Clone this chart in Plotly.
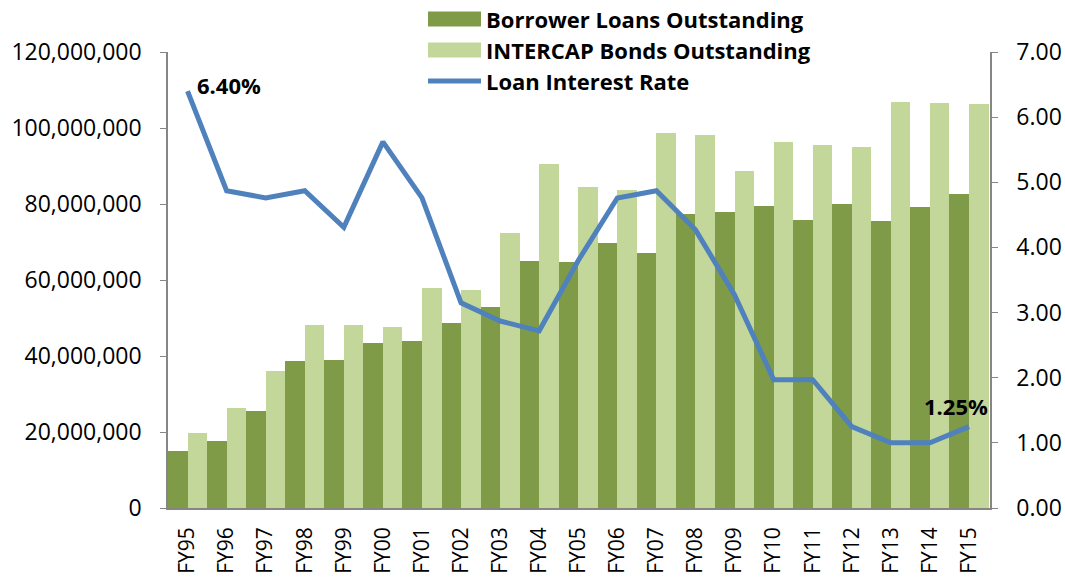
import plotly.graph_objects as go

years = ["FY95","FY96","FY97","FY98","FY99","FY00","FY01","FY02","FY03","FY04","FY05",
         "FY06","FY07","FY08","FY09","FY10","FY11","FY12","FY13","FY14","FY15"]
borrower_loans = [15.0e6,17.6e6,25.5e6,38.7e6,38.9e6,43.4e6,43.9e6,48.7e6,53.0e6,65.0e6,64.7e6,
                  69.7e6,67.0e6,77.5e6,77.8e6,79.5e6,75.8e6,80.0e6,75.5e6,79.2e6,82.6e6]
intercap_bonds = [19.7e6,26.2e6,36.1e6,48.2e6,48.2e6,47.6e6,57.9e6,57.4e6,72.4e6,90.6e6,84.5e6,
                  83.7e6,98.6e6,98.2e6,88.7e6,96.2e6,95.5e6,95.0e6,106.8e6,106.5e6,106.4e6]
interest_rate = [6.40,4.87,4.76,4.87,4.31,5.62,4.76,3.15,2.87,2.72,3.80,
                 4.76,4.87,4.27,3.27,1.97,1.97,1.25,1.00,1.00,1.25]

series_names = ["Borrower Loans Outstanding", "INTERCAP Bonds Outstanding", "Loan Interest Rate"]
left_ticks = [0, 20e6, 40e6, 60e6, 80e6, 100e6, 120e6]
left_labels = ["0","20,000,000","40,000,000","60,000,000","80,000,000","100,000,000","120,000,000"]
right_ticks = [0,1,2,3,4,5,6,7]
right_labels = ["0.00","1.00","2.00","3.00","4.00","5.00","6.00","7.00"]

FONT = "Open Sans"
AX = "#868686"
C_DARK = "#7F9B48"
C_LIGHT = "#C4D79B"
C_LINE = "#4F81BD"

W, H = 1065, 578
ML, MR, MT, MB = 168, 75, 52, 70
PW, PH = W - ML - MR, H - MT - MB

def px(x):
    return (x - ML) / PW

def py(y):
    return (H - MB - y) / PH

fig = go.Figure()
fig.add_trace(go.Bar(x=years, y=borrower_loans, name=series_names[0],
                     marker=dict(color=C_DARK, line=dict(width=0))))
fig.add_trace(go.Bar(x=years, y=intercap_bonds, name=series_names[1],
                     marker=dict(color=C_LIGHT, line=dict(width=0))))
fig.add_trace(go.Scatter(x=years, y=interest_rate, name=series_names[2], yaxis="y2",
                         mode="lines", line=dict(color=C_LINE, width=5)))

fig.add_annotation(x=years[0], y=interest_rate[0], xref="x", yref="y2",
                   text="<b>%.2f%%</b>" % interest_rate[0],
                   showarrow=False, xanchor="left", yanchor="middle", xshift=7, yshift=6,
                   font=dict(family=FONT, size=22, color="black"))
fig.add_annotation(x=years[-1], y=interest_rate[-1], xref="x", yref="y2",
                   text="<b>%.2f%%</b>" % interest_rate[-1],
                   showarrow=False, xanchor="center", yanchor="middle", xshift=-13, yshift=21,
                   font=dict(family=FONT, size=22, color="black"))

# custom legend (wide keys like the original)
rows = [19, 50, 81]
for i, (name, row) in enumerate(zip(series_names, rows)):
    if i < 2:
        fig.add_shape(type="rect", xref="paper", yref="paper",
                      x0=px(428), x1=px(481), y0=py(row - 7.5), y1=py(row + 7.5),
                      fillcolor=C_DARK if i == 0 else C_LIGHT, line=dict(width=0), layer="above")
    else:
        fig.add_shape(type="line", xref="paper", yref="paper",
                      x0=px(428), x1=px(481), y0=py(row), y1=py(row),
                      line=dict(color=C_LINE, width=5), layer="above")
    fig.add_annotation(x=px(484), y=py(row), xref="paper", yref="paper", text="<b>%s</b>" % name,
                       showarrow=False, xanchor="left", yanchor="middle",
                       font=dict(family=FONT, size=22, color="black"))

fig.update_layout(
    width=W, height=H,
    margin=dict(l=ML, r=MR, t=MT, b=MB, autoexpand=False),
    paper_bgcolor="white", plot_bgcolor="white",
    barmode="group", bargap=0, bargroupgap=0,
    showlegend=False,
    font=dict(family=FONT, size=23, color="black"),
    xaxis=dict(type="category", tickangle=-90, showline=True, linecolor=AX, linewidth=1.5,
               ticks="", showgrid=False, tickfont=dict(size=21), ticklabelstandoff=9,
               automargin=False),
    yaxis=dict(range=[0, 120e6], tickvals=left_ticks, ticktext=left_labels, showline=True,
               linecolor=AX, linewidth=1.5, ticks="outside", ticklen=6, tickcolor=AX,
               tickfont=dict(size=23), ticklabelstandoff=14, automargin=False,
               showgrid=False, zeroline=False),
    yaxis2=dict(range=[0, 7], tickvals=right_ticks, ticktext=right_labels, overlaying="y",
                side="right", showline=True, linecolor=AX, linewidth=1.5, ticks="outside",
                ticklen=6, tickcolor=AX, tickfont=dict(size=23), ticklabelstandoff=14,
                automargin=False, showgrid=False, zeroline=False),
)

fig.write_html("out.html")
